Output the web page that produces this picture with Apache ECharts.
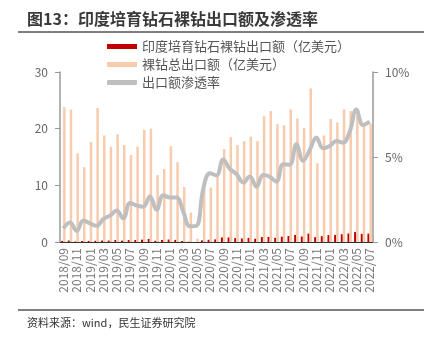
<!DOCTYPE html>
<html><head><meta charset="utf-8">
<script src="https://cdn.jsdelivr.net/npm/echarts@6/dist/echarts.min.js"></script>
<style>html,body{margin:0;padding:0;background:#fff;}#c{width:433px;height:338px;}</style>
</head><body><div id="c"></div>
<script>
const months = ["2018/09","2018/10","2018/11","2018/12","2019/01","2019/02","2019/03","2019/04","2019/05","2019/06","2019/07","2019/08","2019/09","2019/10","2019/11","2019/12","2020/01","2020/02","2020/03","2020/04","2020/05","2020/06","2020/07","2020/08","2020/09","2020/10","2020/11","2020/12","2021/01","2021/02","2021/03","2021/04","2021/05","2021/06","2021/07","2021/08","2021/09","2021/10","2021/11","2021/12","2022/01","2022/02","2022/03","2022/04","2022/05","2022/06","2022/07"];
const indiaLab = [0.19,0.27,0.10,0.17,0.19,0.22,0.25,0.26,0.35,0.24,0.35,0.36,0.41,0.54,0.22,0.35,0.44,0.37,0.17,0.05,0.01,0.29,0.39,0.46,0.80,0.80,0.68,0.62,0.72,0.58,0.87,0.89,0.74,0.94,1.06,1.25,0.96,1.47,0.85,1.04,1.23,1.25,1.37,1.50,1.75,1.43,1.47];
const totalExport = [23.8,23.35,15.65,13.2,17.65,23.65,18.8,16.8,19.0,17.1,15.35,16.8,19.8,20.0,11.8,12.85,16.9,14.1,9.7,5.2,0.6,9.3,9.6,11.8,16.4,18.5,17.1,17.8,18.6,17.8,22.2,23.1,20.8,20.6,23.4,21.8,20.1,27.1,13.9,18.8,21.7,21.1,23.4,23.1,22.4,20.8,20.8];
const penetration = [0.8,1.15,0.65,1.27,1.1,0.95,1.35,1.55,1.85,1.39,2.3,2.15,2.08,2.68,1.9,2.75,2.62,2.62,1.8,0.92,0.95,3.1,4.05,3.92,4.85,4.3,4.0,3.5,3.85,3.25,3.94,3.84,3.55,4.57,4.55,5.75,4.78,5.41,6.14,5.51,5.65,5.94,5.84,6.49,7.8,6.88,7.08];
const leftTicks = [0,10,20,30];
const rightTicks = [0,5,10];

const chart = echarts.init(document.getElementById('c'), null, {renderer:'canvas'});
const font = '"Noto Sans CJK SC", "Microsoft YaHei", sans-serif';
chart.setOption({
  animation:false,
  backgroundColor:'#fff',
  textStyle:{fontFamily:font},
  graphic:[
    {type:'text', left:27, top:11, style:{text:'图13：印度培育钻石裸钻出口额及渗透率', font:'bold 16px '+font, fill:'#3a3a3a'}},
    {type:'line', shape:{x1:18,y1:32,x2:424,y2:32}, style:{stroke:'#555',lineWidth:1.5}},
    {type:'line', shape:{x1:18,y1:310,x2:424,y2:310}, style:{stroke:'#555',lineWidth:1.5}},
    {type:'text', left:27, top:317, style:{text:'资料来源：wind，民生证券研究院', font:'11px '+font, fill:'#333'}}
  ],
  legend:{
    orient:'vertical', left:102, top:35, itemWidth:30, itemHeight:5, itemGap:5,
    textStyle:{color:'#555', fontSize:13, fontFamily:font},
    data:[
      {name:'印度培育钻石裸钻出口额（亿美元）', icon:'rect'},
      {name:'裸钻总出口额（亿美元）', icon:'rect'},
      {name:'出口额渗透率', icon:'roundRect'}
    ]
  },
  grid:{left:60, right:60, top:72, bottom:96},
  xAxis:{
    type:'category', data:months, boundaryGap:true,
    axisLine:{lineStyle:{color:'#333', width:1}},
    axisTick:{interval:1, length:4, lineStyle:{color:'#333'}},
    axisLabel:{interval:1, rotate:90, color:'#777', fontSize:12, margin:6, fontFamily:font}
  },
  yAxis:[
    {type:'value', min:leftTicks[0], max:leftTicks[leftTicks.length-1], interval:10,
     splitLine:{show:false},
     axisLine:{show:true, lineStyle:{color:'#999', width:1.5}},
     axisTick:{show:true, length:5, lineStyle:{color:'#999'}},
     axisLabel:{color:'#666', fontSize:12, margin:12, fontFamily:font}},
    {type:'value', min:rightTicks[0], max:rightTicks[rightTicks.length-1], interval:5,
     splitLine:{show:false},
     axisLine:{show:true, lineStyle:{color:'#999', width:1.5}},
     axisTick:{show:true, length:5, lineStyle:{color:'#999'}},
     axisLabel:{color:'#666', fontSize:12, margin:12, formatter:'{value}%', fontFamily:font}}
  ],
  series:[
    {name:'印度培育钻石裸钻出口额（亿美元）', type:'bar', data:indiaLab, barWidth:2, barGap:'0%', itemStyle:{color:'#C00000'}},
    {name:'裸钻总出口额（亿美元）', type:'bar', data:totalExport, barWidth:2.5, itemStyle:{color:'#F8CBAD'}},
    {name:'出口额渗透率', type:'line', yAxisIndex:1, data:penetration, smooth:0.4, symbol:'none',
     lineStyle:{color:'#BFBFBF', width:4}, itemStyle:{color:'#BFBFBF'}}
  ]
});
</script></body></html>
